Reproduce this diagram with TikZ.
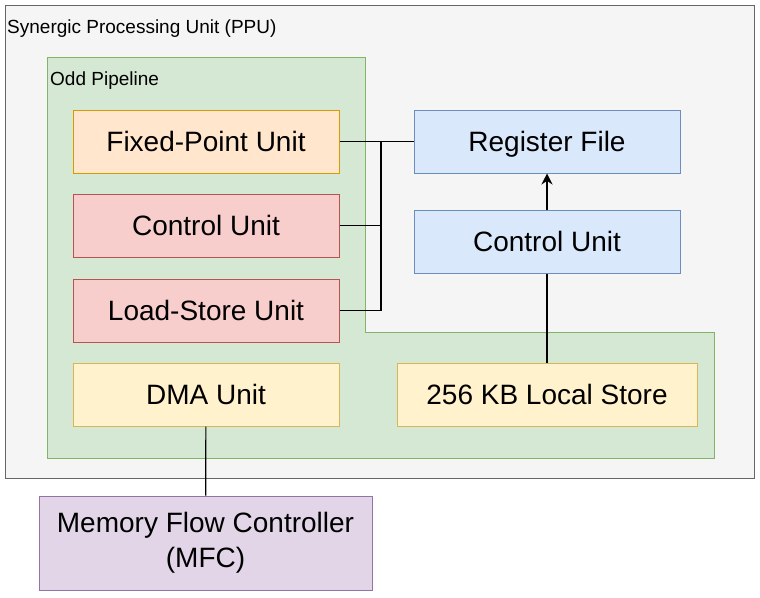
\documentclass[tikz,border=0pt]{standalone}
\usepackage{fontspec}
\setmainfont{Liberation Sans}
\usetikzlibrary{arrows.meta, positioning}
\definecolor{ppufill}{HTML}{F5F5F5}
\definecolor{ppuline}{HTML}{666666}
\definecolor{oddfill}{HTML}{D5E8D4}
\definecolor{oddline}{HTML}{82B366}
\definecolor{orafill}{HTML}{FFE6CC}
\definecolor{oraline}{HTML}{D79B00}
\definecolor{redfill}{HTML}{F8CECC}
\definecolor{redline}{HTML}{B85450}
\definecolor{yelfill}{HTML}{FFF2CC}
\definecolor{yelline}{HTML}{D6B656}
\definecolor{bluefill}{HTML}{DAE8FC}
\definecolor{blueline}{HTML}{6C8EBF}
\definecolor{purfill}{HTML}{E1D5E7}
\definecolor{purline}{HTML}{9673A6}

\begin{document}
\begin{tikzpicture}[
    x=1pt, y=-1pt,
    unit/.style={rectangle, draw, line width=1pt, minimum width=266pt, minimum height=63pt, inner sep=0pt, align=center, font=\fontsize{28}{35}\selectfont},
    oneline/.style={unit, text height=20pt, text depth=0pt},
    caption/.style={anchor=base west, inner sep=0pt, font=\fontsize{19}{22}\selectfont},
    wire/.style={line width=1.2pt},
    arrow/.style={-{Stealth[length=11pt, width=11pt]}, line width=1.2pt}
]
    \useasboundingbox (0,0) rectangle (760,597);

    % Containers
    \node[draw=ppuline, fill=ppufill, line width=1pt, minimum width=749pt, minimum height=473pt, inner sep=0pt] (ppu) at (379.5,241.5) {};
    \draw[draw=oddline, fill=oddfill, line width=1pt] (47,57) -- (365,57) -- (365,332) -- (714,332) -- (714,458) -- (47,458) -- cycle;
    \node[caption] (ppulabel) at (7,33) {Synergic Processing Unit (PPU)};
    \node[caption] (oddlabel) at (50,85) {Odd Pipeline};

    % Components
    \node[oneline, draw=oraline, fill=orafill] (fpu) at (206,141.5) {Fixed-Point Unit};
    \node[oneline, draw=redline, fill=redfill] (cu) at (206,225.5) {Control Unit};
    \node[oneline, draw=redline, fill=redfill] (lsu) at (206,310.5) {Load-Store Unit};
    \node[oneline, draw=yelline, fill=yelfill] (dma) at (206,394.5) {DMA Unit};
    \node[oneline, draw=blueline, fill=bluefill] (rf) at (547,141.5) {Register File};
    \node[oneline, draw=blueline, fill=bluefill] (bcu) at (547,241.5) {Control Unit};
    \node[oneline, draw=yelline, fill=yelfill, minimum width=300pt] (ls) at (547,394.5) {256 KB Local Store};
    \node[unit, draw=purline, fill=purfill, minimum width=333pt, minimum height=94pt] (mfc) at (205.5,543) {Memory Flow Controller\\(MFC)};

    % Connections
    \coordinate (bus) at (381,141.5);
    \draw[wire] (fpu) -- (rf);
    \draw[wire] (cu.east) -| (bus);
    \draw[wire] (lsu.east) -| (bus);
    \draw[arrow] (bcu) -- (rf);
    \draw[wire] (ls) -- (bcu);
    \draw[wire] (dma) -- (mfc);

\end{tikzpicture}
\end{document}
